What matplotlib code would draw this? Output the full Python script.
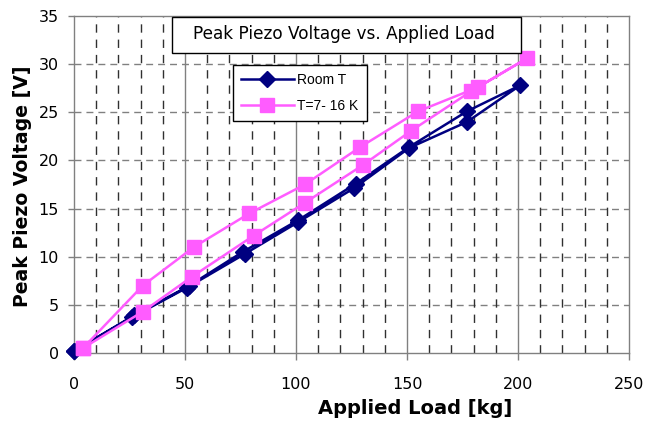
import numpy as np
import matplotlib
matplotlib.use("Agg")
import matplotlib.pyplot as plt
from matplotlib.patches import Rectangle

# load [kg] and peak voltage [V], loading branch then unloading branch
room_load = [0, 26, 51, 77, 101, 126, 151, 177, 201, 177, 151, 127, 101, 76, 52, 27, 0]
room_volt = [0.2, 3.7, 6.8, 10.3, 13.6, 17.1, 21.3, 24.0, 27.8, 25.1, 21.4, 17.6, 13.8, 10.5, 7.0, 3.9, 0.2]

cold_load = [4, 31, 53, 81, 104, 130, 152, 179, 204, 182, 155, 129, 104, 79, 54, 31, 4]
cold_volt = [0.5, 4.3, 7.9, 12.2, 15.6, 19.5, 23.1, 27.2, 30.6, 27.6, 25.1, 21.4, 17.5, 14.5, 11.0, 7.0, 0.5]

x_ticks = [0, 50, 100, 150, 200, 250]
y_ticks = [0, 5, 10, 15, 20, 25, 30, 35]
x_minor = [v for v in range(10, 250, 10) if v % 50 != 0]

title = "Peak Piezo Voltage vs. Applied Load"
xlab = "Applied Load [kg]"
ylab = "Peak Piezo Voltage [V]"

fig = plt.figure(figsize=(6.61, 4.23), dpi=100)
ax = fig.add_axes([74/661, 70/423, 555/661, 337/423])

ax.set_xlim(0, 250)
ax.set_ylim(0, 35)

# grid: dashed horizontal, solid major vertical, dashed minor vertical
for y in y_ticks[1:-1]:
    ax.axhline(y, color="#808080", lw=1.0, ls=(0, (5, 3.6)), zorder=1)
for x in x_ticks[1:-1]:
    ax.axvline(x, color="#808080", lw=1.0, zorder=1)
for x in x_minor:
    ax.axvline(x, color="#303030", lw=1.0, ls=(0, (6, 5)), zorder=1)

ax.plot(room_load, room_volt, color="#000080", lw=1.8, marker="D", ms=8.5,
        label="Room T", zorder=3, clip_on=False)
ax.plot(cold_load, cold_volt, color="#FF5CFF", lw=1.8, marker="s", ms=9.5,
        label="T=7- 16 K", zorder=4, clip_on=False)

ax.set_xticks(x_ticks)
ax.set_yticks(y_ticks)
for lab in ax.get_xticklabels() + ax.get_yticklabels():
    lab.set_fontfamily("DejaVu Sans")
    lab.set_fontsize(11.5)
ax.tick_params(axis="x", direction="out", length=5, width=1, color="#808080", pad=12)
ax.tick_params(axis="y", direction="out", length=4.3, width=1, color="#808080", pad=6.5)

for s in ax.spines.values():
    s.set_color("#808080")
    s.set_linewidth(1.0)

ax.set_xlabel(xlab, fontfamily="DejaVu Sans", fontweight="bold", fontsize=14,
              ha="center", va="center")
ax.xaxis.set_label_coords(0.614, -0.166)
ax.set_ylabel(ylab, fontfamily="DejaVu Sans", fontweight="bold", fontsize=13.6,
              ha="center", va="center")
ax.yaxis.set_label_coords(-0.092, 0.494)

# title box sitting at the top of the plot area
ax.add_patch(Rectangle((0.177, 0.890), 0.628, 0.107, transform=ax.transAxes,
                       facecolor="white", edgecolor="black", lw=1.0, zorder=5))
ax.text(0.486, 0.947, title, transform=ax.transAxes, ha="center", va="center",
        fontfamily="DejaVu Sans", fontsize=12.2, zorder=6)

leg = ax.legend(loc="upper left", bbox_to_anchor=(0.286, 0.855), borderaxespad=0,
                prop={"family": "Liberation Sans", "size": 10}, fancybox=False,
                framealpha=1, edgecolor="black", handlelength=3.8,
                handletextpad=0.25, labelspacing=0.85, borderpad=0.6)
leg.get_frame().set_linewidth(1.0)
leg.set_zorder(7)

fig.savefig("out.png", dpi=100)
